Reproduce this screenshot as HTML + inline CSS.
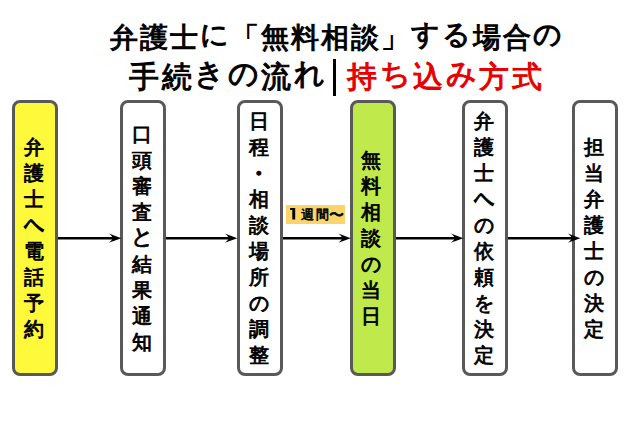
<!DOCTYPE html>
<html lang="ja">
<head>
<meta charset="utf-8">
<style>
html,body{margin:0;padding:0;background:#fff;}
body{width:640px;height:426px;position:relative;overflow:hidden;font-family:"Liberation Sans",sans-serif;font-weight:bold;color:#000;}
.t{position:absolute;white-space:nowrap;line-height:1;}
#t1{left:109.7px;top:22.9px;font-size:28.3px;letter-spacing:2.02px;font-weight:normal;-webkit-text-stroke:1.05px #000;}
#t2{left:129px;top:61.5px;font-size:30px;letter-spacing:2.5px;font-weight:normal;-webkit-text-stroke:1.05px #000;}
#bar{position:absolute;left:332.8px;top:58.5px;width:2.8px;height:37px;background:#000;}
.t i{font-style:normal;position:relative;top:-2.6px;}
.red{color:#e60000;-webkit-text-stroke:1.05px #e60000;}
.box{position:absolute;top:100px;height:276px;width:46px;box-sizing:border-box;border:3px solid #595959;border-radius:8px;background:#fff;}
.y{background:#fef93a;}
.g{background:#c0ea4b;}
.vt{position:absolute;left:0;right:0;top:0;bottom:0;display:flex;flex-direction:column;justify-content:center;align-items:center;font-size:20px;line-height:26px;margin-left:-3px;font-weight:normal;-webkit-text-stroke:0.85px #000;}
.vt span{display:block;height:26px;}
svg{position:absolute;left:0;top:0;}
.vt .dot{transform:translate(-1px,0.5px) scale(1.25);}
.vt .he{transform:translateY(-1.6px) scaleY(1.35);}
.vt .to{transform:translateY(-2.2px) scale(1.1);}
#lab{position:absolute;white-space:nowrap;left:286px;top:205px;width:59px;height:19px;background:#fbd46a;}
#lab span{position:absolute;top:0;line-height:19px;}
#one{left:4px;font-size:15px;}
#tl{left:43px;font-size:15px;font-weight:normal;-webkit-text-stroke:0.6px #000;}
#kj{left:15px;font-size:13px;letter-spacing:2.3px;font-weight:normal;-webkit-text-stroke:0.6px #000;}
</style>
</head>
<body>
<div class="t" id="t1">弁護士<i>に</i>「無料相談」<i>す</i><i>る</i>場合<i>の</i></div>
<div class="t" id="t2"><span style="position:absolute;left:0;top:0">手続<i>き</i><i>の</i>流<i>れ</i></span><span class="red" style="position:absolute;left:218px;top:0">持<i>ち</i>込<i>み</i>方式</span></div>
<div id="bar"></div>



<div class="box y" style="left:12px"><div class="vt"><span>弁</span><span>護</span><span>士</span><span class="he">へ</span><span>電</span><span>話</span><span>予</span><span>約</span></div></div>
<div class="box" style="left:120px"><div class="vt"><span>口</span><span>頭</span><span>審</span><span>査</span><span class="to">と</span><span>結</span><span>果</span><span>通</span><span>知</span></div></div>
<div class="box" style="left:237px"><div class="vt"><span>日</span><span>程</span><span class="dot">・</span><span>相</span><span>談</span><span>場</span><span>所</span><span>の</span><span>調</span><span>整</span></div></div>
<div class="box g" style="left:350px"><div class="vt" style="margin-left:-4px"><span>無</span><span>料</span><span>相</span><span>談</span><span>の</span><span>当</span><span>日</span></div></div>
<div class="box" style="left:462px"><div class="vt"><span>弁</span><span>護</span><span>士</span><span class="he">へ</span><span>の</span><span>依</span><span>頼</span><span>を</span><span>決</span><span>定</span></div></div>
<div class="box" style="left:572px"><div class="vt"><span>担</span><span>当</span><span>弁</span><span>護</span><span>士</span><span>の</span><span>決</span><span>定</span></div></div>

<svg width="640" height="426" viewBox="0 0 640 426">
<g stroke="#000" stroke-width="2.5" fill="none">
<line x1="58" y1="238.2" x2="113" y2="238.2"/>
<line x1="166" y1="238.2" x2="229" y2="238.2"/>
<line x1="283" y1="238.2" x2="342" y2="238.2"/>
<line x1="396" y1="238.2" x2="455" y2="238.2"/>
<line x1="508" y1="238.2" x2="572" y2="238.2"/>
</g>
<g fill="#000">
<path id="ah" d="M121.3 238.2 L108.8 233.6 Q112.4 236.4 112.6 238.2 Q112.4 240 108.8 242.8 Z"/>
<use href="#ah" x="116"/>
<use href="#ah" x="229.5"/>
<use href="#ah" x="342"/>
<use href="#ah" x="459"/>
</g>
</svg>
<div id="lab"><svg width="59" height="19" style="position:absolute;left:0;top:0"><path d="M4.1 2.9 H9.2 V14.6 H6.3 V5.1 H4.1 Z" fill="#000"/></svg><span id="kj">週間</span><span id="tl">〜</span></div>
</body>
</html>
